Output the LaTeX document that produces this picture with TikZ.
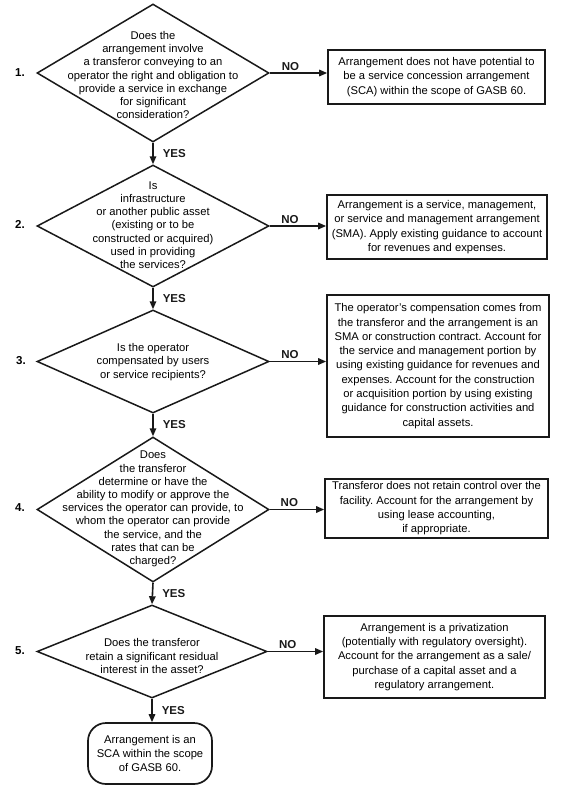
\documentclass[tikz,border=0pt]{standalone}
\usepackage{fontspec}
\setmainfont{Liberation Sans}
\usetikzlibrary{shapes.geometric,arrows.meta}
\frenchspacing
\begin{document}
\begin{tikzpicture}[x=1pt,y=-1pt,
  dia/.style={draw, diamond, line width=1.5pt, inner sep=0pt, color=black!90},
  dtext/.style={align=center, inner sep=0pt, font=\frenchspacing\fontsize{11.2}{13.2}\selectfont},
  box/.style={draw, line width=1.7pt, align=center, inner sep=0pt, color=black!90, text=black,
              font=\frenchspacing\fontsize{11.2}{14.3}\selectfont},
  term/.style={box, rounded corners=18pt},
  lab/.style={inner sep=1pt, font=\bfseries\fontsize{11.5}{12}\selectfont},
  arr/.style={line width=1.6pt, color=black!90, -{Triangle[length=8pt,width=6.5pt]}}]
\useasboundingbox (0,0) rectangle (573,790);

% decisions
\node[dia, minimum width=232pt, minimum height=138pt] (d1) at (153,73) {};
\node[dtext] (q1) at (153,75) {Does the\\arrangement involve\\a transferor conveying to an\\operator the right and obligation to\\provide a service in exchange\\for significant\\consideration?};
\node[dia, minimum width=232pt, minimum height=122pt] (d2) at (153,226) {};
\node[dtext] (q2) at (153,225) {Is\\infrastructure\\or another public asset\\(existing or to be\\constructed or acquired)\\used in providing\\the services?};
\node[dia, minimum width=232pt, minimum height=103pt] (d3) at (153,361.5) {};
\node[dtext] (q3) at (153,362) {Is the operator\\compensated by users\\or service recipients?};
\node[dia, minimum width=232pt, minimum height=145pt] (d4) at (153,509.5) {};
\node[dtext] (q4) at (153,509) {Does\\the transferor\\determine or have the\\ability to modify or approve the\\services the operator can provide, to\\whom the operator can provide\\the service, and the\\rates that can be\\charged?};
\node[dia, minimum width=230pt, minimum height=93pt] (d5) at (152,651.5) {};
\node[dtext] (q5) at (152,656) {Does the transferor\\retain a significant residual\\interest in the asset?};

% step numbers
\node[lab] (n1) at (20,73) {1.};
\node[lab] (n2) at (20,224) {2.};
\node[lab] (n3) at (21,361) {3.};
\node[lab] (n4) at (20,508) {4.};
\node[lab] (n5) at (20,651) {5.};

% outcome boxes
\node[box, minimum width=217pt, minimum height=54pt] (b1) at (436.5,77) {Arrangement does not have potential to\\be a service concession arrangement\\(SCA) within the scope of GASB 60.};
\node[box, minimum width=220pt, minimum height=64pt] (b2) at (437,227) {Arrangement is a service, management,\\or service and management arrangement\\(SMA). Apply existing guidance to account\\for revenues and expenses.};
\node[box, minimum width=222pt, minimum height=142pt] (b3) at (438,366) {The operator’s compensation comes from\\the transferor and the arrangement is an\\SMA or construction contract. Account for\\the service and management portion by\\using existing guidance for revenues and\\expenses. Account for the construction\\or acquisition portion by using existing\\guidance for construction activities and\\capital assets.};
\node[box, minimum width=223pt, minimum height=59pt] (b4) at (436.5,508.5) {Transferor does not retain control over the\\facility. Account for the arrangement by\\using lease accounting,\\if appropriate.};
\node[box, minimum width=221pt, minimum height=82pt] (b5) at (434.5,657) {Arrangement is a privatization\\(potentially with regulatory oversight).\\Account for the arrangement as a sale/\\purchase of a capital asset and a\\regulatory arrangement.};
\node[term, minimum width=124pt, minimum height=61pt] (t) at (150,753.5) {Arrangement is an\\SCA within the scope\\of GASB 60.};

% NO connectors
\draw[arr] (d1.east) -- (d1.east -| b1.west) node[lab, pos=0.36, above=1pt] {NO};
\draw[arr] (d2.east) -- (d2.east -| b2.west) node[lab, pos=0.36, above=1pt] {NO};
\draw[arr] (d3.east) -- (d3.east -| b3.west) node[lab, pos=0.36, above=1pt] {NO};
\draw[arr] (d4.east) -- (d4.east -| b4.west) node[lab, pos=0.36, above=1pt] {NO};
\draw[arr] (d5.east) -- (d5.east -| b5.west) node[lab, pos=0.36, above=1pt] {NO};

% YES connectors
\draw[arr] (d1.south) -- (d2.north) node[lab, midway, right=8pt] {YES};
\draw[arr] (d2.south) -- (d3.north) node[lab, midway, right=8pt] {YES};
\draw[arr] (d3.south) -- (d4.north) node[lab, midway, right=8pt] {YES};
\draw[arr] (d4.south) -- (d5.north) node[lab, midway, right=8pt] {YES};
\draw[arr] (d5.south) -- (d5.south |- t.north) node[lab, midway, right=8pt] {YES};
\end{tikzpicture}
\end{document}
